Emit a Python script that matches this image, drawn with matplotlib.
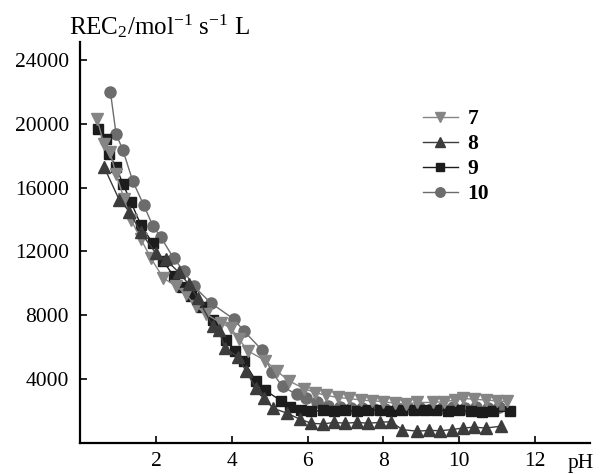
import numpy as np
import matplotlib.pyplot as plt

plt.rcParams['font.family'] = ['Liberation Serif', 'DejaVu Serif']
plt.rcParams['mathtext.fontset'] = 'custom'
plt.rcParams['mathtext.rm'] = 'Liberation Serif'
plt.rcParams['mathtext.it'] = 'Liberation Serif:italic'
plt.rcParams['mathtext.bf'] = 'Liberation Serif:bold'

# series 7 (down triangles)
x7 = [0.45, 0.63, 0.79, 0.95, 1.16, 1.34, 1.6, 1.87, 2.2, 2.53, 2.79, 3.05, 3.32,
      3.71, 3.97, 4.2, 4.42, 4.89, 5.2, 5.5, 5.9, 6.2, 6.5, 6.8, 7.1, 7.4, 7.7,
      8.0, 8.3, 8.6, 8.9, 9.3, 9.6, 9.9, 10.1, 10.4, 10.7, 11.0, 11.25]
y7 = [20300, 18700, 18200, 16850, 15300, 14000, 12800, 11570, 10330, 9830, 9330,
      8580, 8090, 7530, 7220, 6500, 5790, 5160, 4500, 3920, 3420, 3170, 2990,
      2860, 2800, 2700, 2650, 2600, 2500, 2450, 2550, 2550, 2600, 2700, 2800,
      2750, 2700, 2650, 2610]

# series 8 (up triangles)
x8 = [0.63, 1.03, 1.3, 1.6, 2.0, 2.26, 2.6, 2.87, 3.1, 3.5, 3.66, 3.82, 4.16,
      4.37, 4.63, 4.84, 5.1, 5.47, 5.8, 6.1, 6.4, 6.7, 7.0, 7.3, 7.6, 7.9, 8.2,
      8.5, 8.9, 9.2, 9.5, 9.8, 10.1, 10.4, 10.7, 11.1]
y8 = [17300, 15250, 14500, 13200, 11880, 11500, 10700, 9950, 9080, 7340, 7090,
      5970, 5410, 4540, 3480, 2800, 2180, 1870, 1500, 1250, 1200, 1300, 1250,
      1300, 1250, 1300, 1350, 850, 750, 800, 780, 850, 950, 1000, 950, 1060]

# series 9 (squares)
x9 = [0.47, 0.68, 0.76, 0.95, 1.13, 1.34, 1.6, 1.92, 2.2, 2.47, 2.7, 2.92, 3.2,
      3.5, 3.84, 4.1, 4.32, 4.63, 4.89, 5.29, 5.55, 5.82, 6.1, 6.4, 6.7, 7.0,
      7.3, 7.6, 7.9, 8.2, 8.5, 8.8, 9.1, 9.4, 9.7, 10.0, 10.3, 10.6, 10.9, 11.34]
y9 = [19650, 19030, 18100, 17300, 16230, 15110, 13680, 12500, 11380, 10450, 9800,
      9200, 8500, 7700, 6470, 5800, 5160, 3920, 3300, 2670, 2240, 2050, 2000,
      2050, 2000, 2050, 2000, 2100, 2050, 2000, 2100, 2100, 2050, 2100, 2000,
      2050, 2000, 1950, 2000, 1990]

# series 10 (circles)
x10 = [0.8, 0.95, 1.13, 1.39, 1.68, 1.92, 2.13, 2.47, 2.74, 3.0, 3.45, 4.05, 4.32,
       4.79, 5.05, 5.34, 5.71, 5.95, 6.24, 6.55, 6.85, 7.15, 7.45, 7.75, 8.05,
       8.35, 8.65, 8.95, 9.25, 9.55, 9.85, 10.15, 10.45, 10.75, 11.05]
y10 = [22000, 19350, 18350, 16400, 14900, 13600, 12900, 11570, 10760, 9830, 8770,
       7780, 7030, 5850, 4480, 3550, 3050, 2800, 2550, 2300, 2250, 2200, 2200,
       2150, 2150, 2200, 2200, 2250, 2150, 2200, 2250, 2200, 2250, 2200, 2240]

labels = ['7', '8', '9', '10']
xticks = [2, 4, 6, 8, 10, 12]
yticks = [4000, 8000, 12000, 16000, 20000, 24000]

fig = plt.figure(figsize=(6.02, 4.74), dpi=100)
ax = fig.add_axes([0.133, 0.065, 0.847, 0.846])

ax.plot(x7, y7, color='#858585', marker='v', ms=8.5, lw=1, label=labels[0], zorder=3)
ax.plot(x8, y8, color='#3c3c3c', marker='^', ms=8.5, lw=1, label=labels[1], zorder=4)
ax.plot(x9, y9, color='#1c1c1c', marker='s', ms=7.5, lw=1, label=labels[2], zorder=2)
ax.plot(x10, y10, color='#6c6c6c', marker='o', ms=8, lw=1, label=labels[3], zorder=1)

ax.set_xlim(0, 13.45)
ax.set_ylim(0, 25100)
ax.set_xticks(xticks)
ax.set_yticks(yticks)
ax.tick_params(direction='in', length=5, width=1.2, labelsize=15.5, pad=8)
ax.tick_params(axis='x', pad=6)
for s in ['top', 'right']:
    ax.spines[s].set_visible(False)
for s in ['left', 'bottom']:
    ax.spines[s].set_linewidth(1.6)

ax.text(12.85, -1300, 'pH', fontsize=15.5, ha='left', va='center', clip_on=False)
fig.text(0.115, 0.945, r'REC$_2$/mol$^{-1}$ s$^{-1}$ L', fontsize=18,
         ha='left', va='center')

leg = ax.legend(loc='upper left', bbox_to_anchor=(0.673, 0.833), frameon=False,
                prop={'weight': 'bold', 'size': 15.5}, handlelength=1.6,
                labelspacing=0.23, handletextpad=0.45, borderpad=0,
                borderaxespad=0, markerscale=0.85)

fig.savefig('out.png', dpi=100)
